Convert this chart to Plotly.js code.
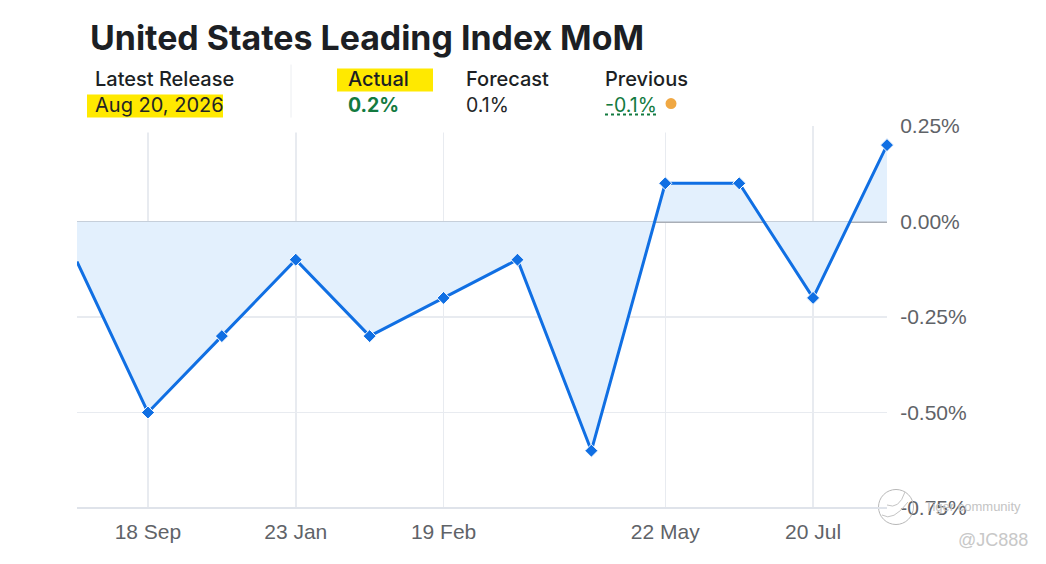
<!DOCTYPE html>
<html><head><meta charset="utf-8">
<script src="https://cdn.plot.ly/plotly-3.0.1.min.js"></script>
<style>html,body{margin:0;padding:0;background:#fff}#c{width:1046px;height:564px}</style>
</head><body><div id="c"></div>
<script>
const W = 1046, H = 564;
const M = {l:77, r:159, t:126.4, b:56};
const xIndex = [-0.96,0,1,2,3,4,5,6,7,8,9,10];
const momValues = [-0.105,-0.5,-0.3,-0.1,-0.3,-0.2,-0.1,-0.6,0.1,0.1,-0.2,0.2];
const markerSizes = [0,10,10,10,10,10,10,10,10,10,10,10];
const xTickVals = [0,2,4,7,9];
const xTickText = ['18 Sep','23 Jan','19 Feb','22 May','20 Jul'];
const yTickVals = [0.25,0,-0.25,-0.5,-0.75];
const yTickText = ['0.25%','0.00%','-0.25%','-0.50%','-0.75%'];

const px = x => (x - M.l) / (W - M.l - M.r);
const py = y => 1 - (y - M.t) / (H - M.t - M.b);
const rect = (x0,y0,x1,y1,color) => ({type:'rect',xref:'paper',yref:'paper',x0:px(x0),x1:px(x1),y0:py(y0),y1:py(y1),fillcolor:color,line:{width:0},layer:'above'});
const seg = (x0,y0,x1,y1,color,width,dash) => ({type:'line',xref:'paper',yref:'paper',x0:px(x0),x1:px(x1),y0:py(y0),y1:py(y1),line:{color:color,width:width,dash:dash||'solid'},layer:'above'});
const circle = (cx,cy,r,fill,lineColor,lw) => ({type:'circle',xref:'paper',yref:'paper',x0:px(cx-r),x1:px(cx+r),y0:py(cy-r),y1:py(cy+r),fillcolor:fill,line:{color:lineColor,width:lw},layer:'above'});
const curve = (x0,y0,cx,cy,x1,y1,color) => ({type:'path',xref:'paper',yref:'paper',path:`M ${px(x0)} ${py(y0)} Q ${px(cx)} ${py(cy)} ${px(x1)} ${py(y1)}`,line:{color:color,width:1},layer:'above'});
const label = (text,x,y,size,color,weight,family) => ({text:text,xref:'paper',yref:'paper',x:px(x),y:py(y),xanchor:'left',yanchor:'middle',showarrow:false,borderpad:0,font:{family:family||'Inter, sans-serif',size:size,color:color,weight:weight||400}});

const trace = {
  x:xIndex, y:momValues, type:'scatter', mode:'lines+markers', fill:'tozeroy', fillcolor:'#e3f0fd',
  line:{color:'#106fe3',width:3},
  marker:{symbol:'diamond',size:markerSizes,color:'#106fe3',opacity:1},
  cliponaxis:false, hoverinfo:'skip'
};
const layout = {
  width:W, height:H, margin:M, paper_bgcolor:'#fff', plot_bgcolor:'#fff', showlegend:false,
  xaxis:{range:[-0.96,10],tickmode:'array',tickvals:xTickVals,ticktext:xTickText,showgrid:true,gridcolor:'#e8ebf0',gridwidth:1.5,
    zeroline:false,showline:false,ticks:'outside',ticklen:5,tickcolor:'rgba(0,0,0,0)',
    tickfont:{family:'Liberation Sans, Arial, sans-serif',size:21,color:'#5f6368'}},
  yaxis:{range:[-0.75,0.25],side:'right',tickmode:'array',tickvals:yTickVals,ticktext:yTickText,showgrid:true,gridcolor:'#e8ebf0',gridwidth:1.5,
    zeroline:true,zerolinecolor:'#a9aeb6',zerolinewidth:2,showline:false,ticks:'outside',ticklen:8,tickcolor:'rgba(0,0,0,0)',
    tickfont:{family:'Liberation Sans, Arial, sans-serif',size:21,color:'#5f6368'}},
  shapes:[
    rect(85,0,720,133,'#ffffff'),
    rect(87,95,223,118,'#ffe900'),
    rect(337,69,433,92,'#ffe900'),
    seg(291,65,291,118,'#eceef1',1),
    seg(605,115,656,115,'#137a3f',2,'dot'),
    circle(671,104,5.5,'#f0a843','#f0a843',0),
    circle(896,507,17.5,'rgba(0,0,0,0)','#b8b8b8',1),
    curve(882,515,893,522,908,502,'#c4c4c4'),
    curve(887,505,899,510,905,492,'#c4c4c4'),
    seg(77,508,887,508,'#dfe3ea',2)
  ],
  annotations:[
    label('United States Leading Index MoM',89,38,33.9,'#1c1f24',700),
    label('Latest Release',94,79.5,20,'#1c1f24',500),
    label('Aug 20, 2026',94,105,20,'#232526',400),
    label('Actual',347,79.5,20,'#1c1f24',500),
    label('0.2%',347,105,19.5,'#137a3f',700),
    label('Forecast',465,79.5,20,'#1c1f24',500),
    label('0.1%',465,105,19.5,'#232526',400),
    label('Previous',604,79.5,20,'#1c1f24',500),
    label('-0.1%',604,105,19.5,'#137a3f',400),
    label('Tiger community',924,507,13,'#c4c4c4',400,'Liberation Sans, Arial, sans-serif'),
    label('@JC888',957,540,18,'#c8c8c8',400,'Liberation Sans, Arial, sans-serif')
  ]
};
Plotly.newPlot('c',[trace],layout,{displayModeBar:false,staticPlot:true});
</script></body></html>
